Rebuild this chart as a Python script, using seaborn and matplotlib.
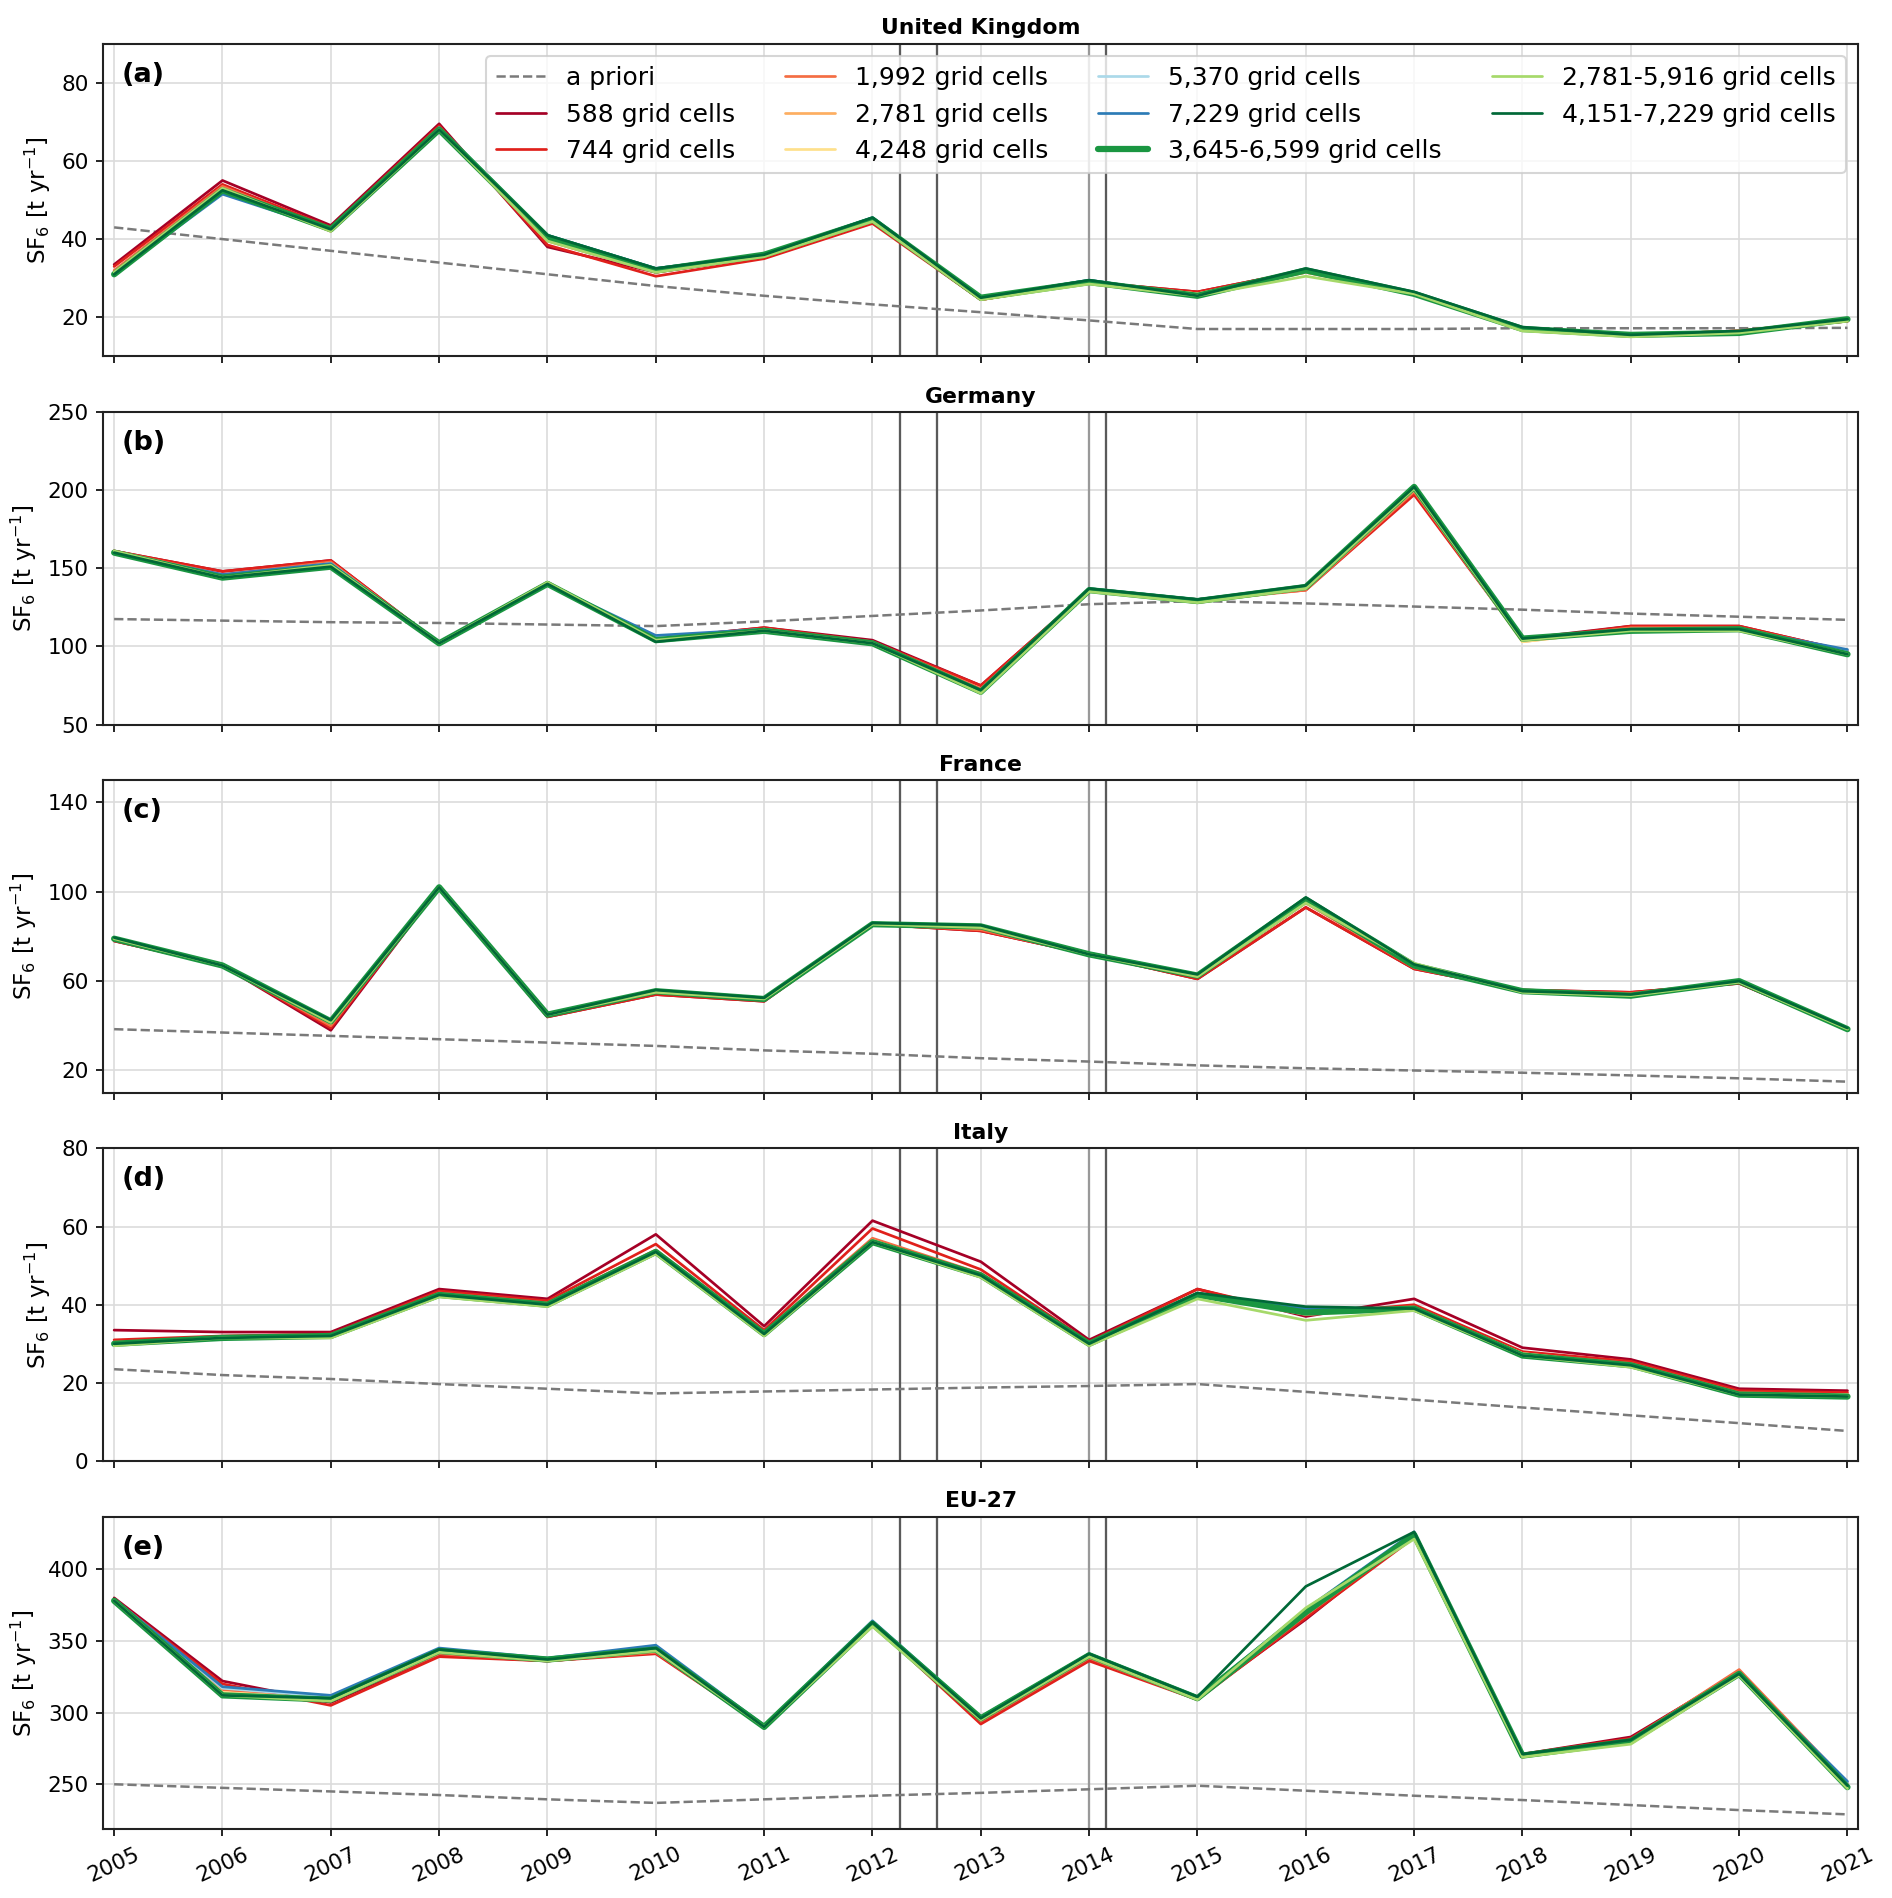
import matplotlib
matplotlib.use("Agg")
import matplotlib.pyplot as plt
import seaborn as sns
import pandas as pd

years = list(range(2005, 2022))

labels = ["a priori", "588 grid cells", "744 grid cells", "1,992 grid cells",
          "2,781 grid cells", "4,248 grid cells", "5,370 grid cells",
          "7,229 grid cells", "3,645-6,599 grid cells",
          "2,781-5,916 grid cells", "4,151-7,229 grid cells"]

# ---------------- United Kingdom ----------------
uk_apriori = [43, 40, 37, 34, 31, 28, 25.5, 23.3, 21.3, 19.2, 17, 17, 17, 17.2, 17.2, 17.2, 17.3]
uk_588 = [33.5, 55, 43.5, 69.5, 38, 31.5, 35.5, 44.5, 24.5, 29, 26.5, 32, 26, 17, 15.5, 16.5, 19]
uk_744 = [33, 54, 43, 69, 38.5, 30.5, 35, 44, 24.5, 29, 26.5, 32, 26, 17, 15.5, 16.5, 19]
uk_1992 = [32, 53.5, 42.5, 68.5, 39.5, 31.5, 35.5, 44.5, 24.5, 29, 26, 31.5, 26, 17, 15.5, 16.5, 19.5]
uk_2781 = [31.5, 53, 42, 68, 40, 32, 36, 45, 24.5, 29, 26, 31.5, 26, 17, 15.5, 16.5, 19.5]
uk_4248 = [31.5, 52.5, 42.5, 68, 40.5, 32, 36, 45, 25, 29, 26, 32, 26, 17, 15.5, 16, 19.5]
uk_5370 = [31, 52, 42.5, 68.5, 41, 32.5, 36, 45.5, 25, 29.5, 25.5, 32, 26, 17, 15.5, 16, 19.5]
uk_7229 = [31, 51.5, 42.5, 68.5, 41, 32.5, 36, 45.5, 25, 29.5, 25.5, 32, 26, 17, 15.5, 16, 19.5]
uk_3645_6599 = [31, 52.5, 42.5, 68, 40.5, 32, 36, 45, 25, 29, 25.5, 32, 26, 17, 15.5, 16, 19.5]
uk_2781_5916 = [31.5, 53, 42, 68, 39.5, 31.5, 35.5, 44.5, 24.5, 28.5, 25.5, 30.5, 26, 16.5, 15, 16, 19]
uk_4151_7229 = [31, 52.5, 42.5, 68, 41, 32.5, 36, 45.5, 25, 29.5, 25.5, 32.5, 26.5, 17.5, 15.5, 16.5, 19.5]

# ---------------- Germany ----------------
de_apriori = [117.5, 116.5, 115.5, 115, 114, 113, 116, 119.5, 123, 127, 129, 127.5, 125.5, 123.5, 121, 119, 117]
de_588 = [161, 148, 155, 102, 140, 105, 112, 104, 75, 136, 130, 137, 198, 105, 113, 113, 97]
de_744 = [161, 148, 155, 102, 140, 105, 112, 103, 75, 136, 130, 136, 197, 104, 113, 113, 97]
de_1992 = [161, 146, 154, 102, 141, 104, 111, 103, 73, 136, 129, 136, 199, 104, 112, 112, 97]
de_2781 = [161, 145, 153, 102, 141, 104, 111, 102, 71, 136, 128, 137, 200, 103, 111, 111, 96]
de_4248 = [160, 145, 152, 102, 141, 104, 111, 102, 70, 136, 128, 137, 201, 103, 111, 111, 96]
de_5370 = [160, 145, 153, 102, 140, 106, 111, 102, 71, 137, 130, 138, 201, 105, 111, 111, 97]
de_7229 = [160, 146, 153, 102, 140, 107, 111, 102, 72, 137, 130, 138, 201, 105, 111, 111, 98]
de_3645_6599 = [160, 144, 151, 102, 140, 104, 110, 102, 71, 136, 129, 138, 202, 105, 110, 111, 95]
de_2781_5916 = [161, 144, 152, 102, 141, 104, 110, 102, 70, 135, 128, 137, 201, 104, 110, 110, 95]
de_4151_7229 = [160, 144, 151, 102, 140, 103, 110, 102, 72, 137, 130, 139, 202, 105, 111, 111, 95]

# ---------------- France ----------------
fr_apriori = [38.5, 37, 35.5, 34, 32.5, 31, 29, 27.5, 25.5, 24, 22.3, 21, 20, 19, 17.8, 16.5, 15]
fr_588 = [78, 67, 38, 102, 44, 54, 51, 85.5, 82.5, 72, 61, 93, 65.5, 56, 55, 59, 38.5]
fr_744 = [78, 67, 39, 102, 44, 54, 51, 85.5, 82.5, 72, 61, 93, 65.5, 56, 55, 59, 38.5]
fr_1992 = [78.5, 67, 40, 102, 44.5, 55, 52, 85.5, 83, 72, 62, 95, 66, 56, 54.5, 59.5, 38.5]
fr_2781 = [79, 67, 41, 102, 45, 55, 52, 85.5, 84, 72, 62.5, 96, 67, 55.5, 54, 60, 38.5]
fr_4248 = [79, 67, 41.5, 102, 45, 55.5, 52, 85.5, 84, 72, 62.5, 96, 67, 55.5, 54, 60, 38.5]
fr_5370 = [79, 67, 42, 102, 45, 55.5, 52.5, 86, 84.5, 72.5, 63, 97, 67.5, 55.5, 54, 60, 38.5]
fr_7229 = [79, 67, 42, 102, 45, 55.5, 52.5, 86, 84.5, 72.5, 63, 97, 67.5, 55.5, 54, 60, 38.5]
fr_3645_6599 = [79, 67, 42, 102, 45, 55.5, 52, 85.5, 84.5, 72, 62.5, 96.5, 67, 55.5, 53.5, 60, 38.5]
fr_2781_5916 = [79, 67, 41.5, 102, 45, 55, 52, 85.5, 84, 72, 62, 95, 68, 55, 53.5, 59.5, 38.5]
fr_4151_7229 = [79.5, 67, 42.5, 102, 45, 56, 52.5, 86, 85, 72, 63, 97.5, 67.5, 55.5, 54, 60, 39]

# ---------------- Italy ----------------
it_apriori = [23.5, 22, 21, 19.7, 18.5, 17.3, 17.8, 18.3, 18.8, 19.2, 19.7, 17.7, 15.7, 13.7, 11.7, 9.7, 7.7]
it_588 = [33.5, 33, 33, 44, 41.5, 58, 34.5, 61.5, 51, 31, 44, 37, 41.5, 29, 26, 18.5, 18]
it_744 = [31, 32, 32.5, 43.5, 41, 55.5, 33.5, 59.5, 49, 30.5, 44, 37.5, 40, 28, 25.5, 18, 17.5]
it_1992 = [30.5, 31.5, 32, 43, 40.5, 54, 33, 57, 48, 30, 43, 38, 39.5, 27.5, 25, 17.5, 17]
it_2781 = [30, 31.5, 32, 42.5, 40, 53.5, 32.5, 56.5, 47.5, 30, 42.5, 38, 39, 27.5, 24.5, 17, 17]
it_4248 = [30, 31.5, 32, 42.5, 40, 53.5, 32.5, 56.5, 47.5, 30, 42.5, 37.5, 39, 27.5, 24.5, 17, 17]
it_5370 = [30, 31.5, 32, 42.5, 40, 53.5, 32.5, 56, 47.5, 30, 42.5, 38.5, 39, 27, 24.5, 17, 16.5]
it_7229 = [30, 31.5, 32, 42.5, 40, 53.5, 32.5, 56, 47.5, 30, 42.5, 39, 39, 27, 24.5, 17, 16.5]
it_3645_6599 = [30, 31.5, 32, 42.5, 40, 53.5, 32.5, 56, 47.5, 30, 42.5, 38, 39, 27, 24.5, 17, 16.5]
it_2781_5916 = [29.5, 31.5, 31.5, 42, 39.5, 53, 32, 56, 47, 29.5, 41.5, 36, 38.5, 27, 24, 17, 16.5]
it_4151_7229 = [30, 31.5, 32, 42.5, 40, 53.5, 32.5, 56, 47.5, 30, 43, 39.5, 39, 27, 24.5, 17, 16.5]

# ---------------- EU-27 ----------------
eu_apriori = [250, 247.5, 245, 242.5, 239.5, 237, 239.5, 242, 244, 246.5, 249, 245.5, 242, 239, 235.5, 232, 229]
eu_588 = [380, 322, 307, 340, 336, 342, 290, 363, 293, 337, 310, 365, 425, 271, 283, 328, 250]
eu_744 = [379, 320, 305, 339, 336, 341, 290, 362, 292, 336, 309, 366, 422, 271, 282, 329, 250]
eu_1992 = [379, 316, 308, 341, 336, 342, 290, 362, 294, 338, 309, 368, 423, 270, 281, 330, 251]
eu_2781 = [378, 314, 309, 342, 337, 343, 290, 361, 295, 339, 309, 370, 423, 269, 280, 328, 250]
eu_4248 = [378, 314, 310, 342, 337, 343, 290, 361, 295, 339, 309, 371, 423, 269, 279, 328, 249]
eu_5370 = [379, 317, 311, 344, 338, 346, 291, 363, 297, 341, 311, 372, 425, 270, 280, 327, 251]
eu_7229 = [379, 318, 312, 345, 338, 347, 291, 364, 297, 341, 311, 372, 426, 270, 281, 327, 252]
eu_3645_6599 = [378, 312, 309, 343, 337, 344, 290, 362, 296, 340, 310, 370, 424, 270, 280, 327, 248]
eu_2781_5916 = [378, 312, 308, 342, 336, 343, 290, 360, 295, 339, 309, 373, 421, 269, 278, 326, 247]
eu_4151_7229 = [378, 312, 310, 344, 337, 345, 290, 363, 296, 341, 311, 388, 426, 271, 281, 327, 249]

countries = ["United Kingdom", "Germany", "France", "Italy", "EU-27"]
panel_letters = ["(a)", "(b)", "(c)", "(d)", "(e)"]
country_series = [
    [uk_apriori, uk_588, uk_744, uk_1992, uk_2781, uk_4248, uk_5370, uk_7229, uk_3645_6599, uk_2781_5916, uk_4151_7229],
    [de_apriori, de_588, de_744, de_1992, de_2781, de_4248, de_5370, de_7229, de_3645_6599, de_2781_5916, de_4151_7229],
    [fr_apriori, fr_588, fr_744, fr_1992, fr_2781, fr_4248, fr_5370, fr_7229, fr_3645_6599, fr_2781_5916, fr_4151_7229],
    [it_apriori, it_588, it_744, it_1992, it_2781, it_4248, it_5370, it_7229, it_3645_6599, it_2781_5916, it_4151_7229],
    [eu_apriori, eu_588, eu_744, eu_1992, eu_2781, eu_4248, eu_5370, eu_7229, eu_3645_6599, eu_2781_5916, eu_4151_7229],
]
y_limits = [(10, 90), (50, 250), (10, 150), (0, 80), (218.6, 436.7)]
y_ticks = [[20, 40, 60, 80], [50, 100, 150, 200, 250], [20, 60, 100, 140],
           [0, 20, 40, 60, 80], [250, 300, 350, 400]]
period_lines = [2012.25, 2012.6, 2014.0, 2014.16]

colors = ["#7a7a7a", "#a50026", "#e0201b", "#f46d43", "#fdae61", "#fee08b",
          "#abd9e9", "#2c7bb6", "#1a9641", "#a6d96a", "#006837"]
widths = [1.2, 1.3, 1.3, 1.3, 1.3, 1.3, 1.3, 1.3, 3.0, 1.3, 1.3]
styles = ["--"] + ["-"] * 10

sns.set_style("ticks", {"axes.grid": True, "grid.color": "#dcdcdc",
                        "axes.edgecolor": "#222222", "xtick.color": "black",
                        "ytick.color": "black", "text.color": "black",
                        "axes.labelcolor": "black"})
plt.rcParams["font.family"] = ["DejaVu Sans"]
plt.rcParams["font.size"] = 10
plt.rcParams["grid.linewidth"] = 0.8

fig, axes = plt.subplots(5, 1, figsize=(1892 / 150, 1898 / 150), dpi=150, sharex=True)
fig.subplots_adjust(left=0.0546, right=0.9822, top=0.977, bottom=0.0362, hspace=0.1775)

for i, ax in enumerate(axes):
    for j, vals in enumerate(country_series[i]):
        df = pd.DataFrame({"year": years, "value": vals})
        sns.lineplot(data=df, x="year", y="value", ax=ax, color=colors[j],
                     linewidth=widths[j], linestyle=styles[j], label=labels[j])
    for xv in period_lines:
        ax.axvline(xv, color="#999999" if xv == 2014.0 else "#5a5a5a", lw=1.1, zorder=1)
    ax.set_xlim(2004.9, 2021.1)
    ax.set_ylim(*y_limits[i])
    ax.set_yticks(y_ticks[i])
    ax.set_xticks(years)
    ax.set_title(countries[i], fontsize=10.5, fontweight="bold", color="black", pad=4.5)
    ax.set_ylabel(r"SF$_6$ [t yr$^{-1}$]", fontsize=11, color="black")
    ax.set_xlabel("")
    ax.tick_params(axis="both", labelsize=10.3, length=3.5, width=0.8,
                   colors="black", labelcolor="black")
    ax.text(0.0105, 0.942, panel_letters[i], transform=ax.transAxes,
            fontsize=13, fontweight="bold", va="top", ha="left", color="black")
    for sp in ax.spines.values():
        sp.set_linewidth(1.0)
        sp.set_color("#222222")
    leg = ax.get_legend()
    if leg is not None:
        leg.remove()

handles, labs = axes[0].get_legend_handles_labels()
lg = axes[0].legend(handles[:11], labs[:11], ncol=4, loc="upper right", fontsize=12,
                    framealpha=0.8, handlelength=2.0)
for t in lg.get_texts():
    t.set_color("black")

axes[-1].set_xticks(years)
axes[-1].set_xticklabels([str(y) for y in years], rotation=25)

fig.savefig("out.png", dpi=150)
